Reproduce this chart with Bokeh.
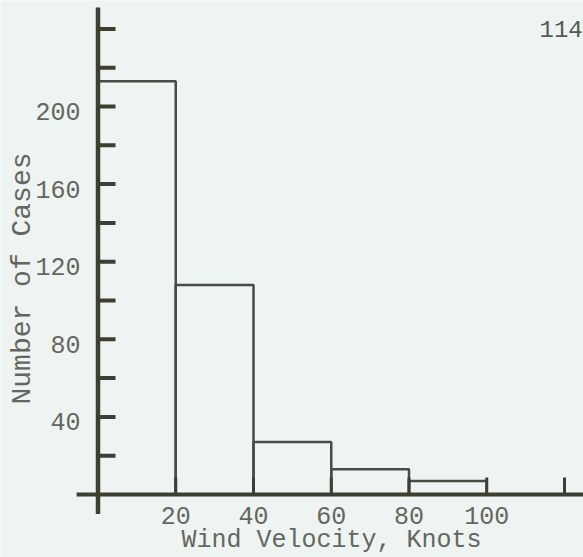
from bokeh.plotting import figure
from bokeh.models import Range1d, ColumnDataSource
from bokeh.core.properties import value
from bokeh.embed import file_html
from bokeh.resources import INLINE
import math

# Histogram of wind velocity (knots) against number of cases
bin_left = [0, 20, 40, 60, 80]
bin_right = [20, 40, 60, 80, 100]
counts = [213, 108, 27, 13, 7]

y_tick_values = [20, 40, 60, 80, 100, 120, 140, 160, 180, 200, 220, 240]
y_label_values = [40, 80, 120, 160, 200]
x_tick_values = [20, 40, 60, 80, 100, 120]
x_label_values = [20, 40, 60, 80, 100]

x_title = "Wind Velocity, Knots"
y_title = "Number of Cases"
page_number = "114"

BG = "#edf4f1"
INK = "#3d3f30"
BAR_INK = "#4a4b42"
TEXT = "#65675e"
FONT = value("Liberation Mono")

W, H = 583, 557
px_x = 3.8875           # pixels per knot
px_y = 1.94             # pixels per case
x0_px, y0_px = 97.5, 494.0

xr = Range1d(-x0_px / px_x, (W - x0_px) / px_x)
yr = Range1d(-(H - y0_px) / px_y, y0_px / px_y)

p = figure(width=W, height=H, x_range=xr, y_range=yr,
           output_backend="svg", toolbar_location=None,
           x_axis_location=None, y_axis_location=None,
           min_border=0, outline_line_color=None,
           background_fill_color=BG, border_fill_color=BG)
p.grid.visible = False

# bars: open rectangles
bars = ColumnDataSource(dict(left=bin_left, right=bin_right,
                             top=counts, bottom=[0] * len(counts)))
p.quad(left="left", right="right", top="top", bottom="bottom", source=bars,
       fill_color=None, line_color=BAR_INK, line_width=2.5)

# axis lines
p.segment(x0=[0], y0=[-10], x1=[0], y1=[251], line_color=INK, line_width=4.5)
p.segment(x0=[-5.5], y0=[0], x1=[xr.end], y1=[0], line_color=INK, line_width=4)

# tick marks
ytick_len = 17.5 / px_x
p.segment(x0=[0] * len(y_tick_values), y0=y_tick_values,
          x1=[ytick_len] * len(y_tick_values), y1=y_tick_values,
          line_color=INK, line_width=4)
xtick_len = 17 / px_y
p.segment(x0=x_tick_values, y0=[0] * len(x_tick_values),
          x1=x_tick_values, y1=[xtick_len] * len(x_tick_values),
          line_color=INK, line_width=3)

# tick labels
p.text(x=[-17.5 / px_x] * len(y_label_values), y=y_label_values,
       text=[str(v) for v in y_label_values],
       text_font=FONT, text_font_size="25px", text_color=TEXT,
       text_align="right", text_baseline="middle", y_offset=5)
p.text(x=x_label_values, y=[-21 / px_y] * len(x_label_values),
       text=[str(v) for v in x_label_values],
       text_font=FONT, text_font_size="25px", text_color=TEXT,
       text_align="center", text_baseline="middle")

# axis titles
p.text(x=[(331 - x0_px) / px_x], y=[-(540 - y0_px) / px_y], text=[x_title],
       text_font=FONT, text_font_size="25px", text_color=TEXT,
       text_align="center", text_baseline="alphabetic")
p.text(x=[(22 - x0_px) / px_x], y=[(y0_px - 278) / px_y], text=[y_title],
       angle=math.pi / 2,
       text_font=FONT, text_font_size="28px", text_color=TEXT,
       text_align="center", text_baseline="middle")

# page number
p.text(x=[(539 - x0_px) / px_x], y=[(y0_px - 28) / px_y], text=[page_number],
       text_font=FONT, text_font_size="24px", text_color="#585a52",
       text_align="left", text_baseline="alphabetic")

open("out.html", "w").write(file_html(p, INLINE))
